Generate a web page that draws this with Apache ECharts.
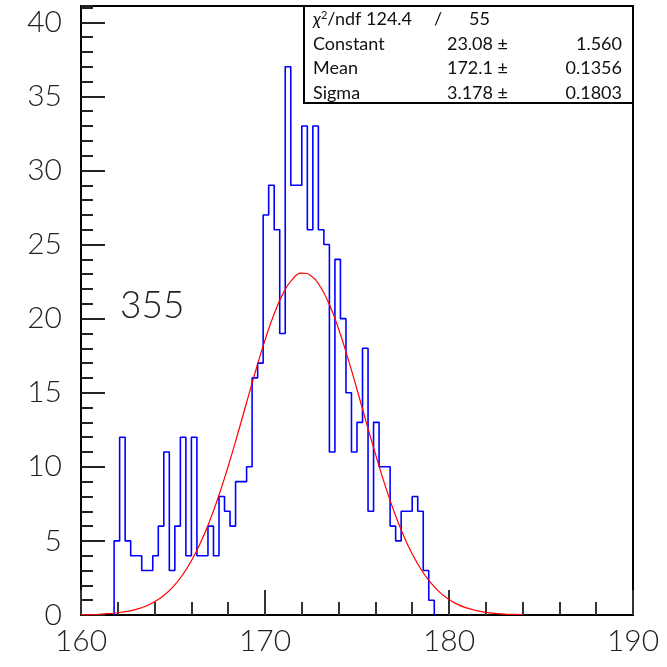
<!DOCTYPE html>
<html>
<head>
<meta charset="utf-8">
<script src="https://cdn.jsdelivr.net/npm/echarts@6/dist/echarts.min.js"></script>
<style>
  html, body { margin: 0; padding: 0; background: #fff; }
  #chart { width: 667px; height: 667px; }
</style>
</head>
<body>
<div id="chart"></div>
<script>
// histogram: 0.3 wide bins, first filled bin starts at 161.8
const binStart = 161.8;
const binWidth = 0.3;
const counts = [
  5, 12, 5, 4, 4, 3, 3, 4, 6, 11,
  3, 6, 12, 4, 12, 4, 4, 6, 4, 8,
  7, 6, 9, 9, 10, 16, 17, 27, 29, 26,
  19, 37, 29, 29, 33, 26, 33, 26, 25, 11,
  24, 20, 15, 11, 13, 18, 7, 13, 10, 10,
  6, 5, 7, 7, 8, 7, 3, 1
];
// gaussian fit, every 0.5
const fitX = [160, 160.5, 161, 161.5, 162, 162.5, 163, 163.5, 164, 164.5, 165, 165.5,
  166, 166.5, 167, 167.5, 168, 168.5, 169, 169.5, 170, 170.5, 171, 171.5, 172, 172.5,
  173, 173.5, 174, 174.5, 175, 175.5, 176, 176.5, 177, 177.5, 178, 178.5, 179, 179.5,
  180, 180.5, 181, 181.5, 182, 182.5, 183, 183.5, 184];
const fitY = [0.02, 0.03, 0.05, 0.09, 0.15, 0.24, 0.38, 0.59, 0.9, 1.32, 1.9, 2.67,
  3.66, 4.89, 6.37, 8.1, 10.04, 12.15, 14.34, 16.52, 18.55, 20.33, 21.74, 22.67, 23.07, 22.9,
  22.17, 20.95, 19.3, 17.35, 15.22, 13.02, 10.87, 8.85, 7.03, 5.45, 4.12, 3.04, 2.19, 1.53,
  1.05, 0.7, 0.46, 0.29, 0.18, 0.11, 0.06, 0.04, 0.02];
const statRows = [
  ["Constant", "23.08", "1.560"],
  ["Mean", "172.1", "0.1356"],
  ["Sigma", "3.178", "0.1803"]
];
const chiText = ["124.4", "55"];
const histLabel = "355";

const font = "Lato, 'DejaVu Sans', sans-serif";

// step points: left edge of each bin, plus closing edges
const histData = [[binStart, 0]];
counts.forEach(function (c, i) {
  histData.push([+(binStart + i * binWidth).toFixed(2), c]);
});
histData.push([+(binStart + counts.length * binWidth).toFixed(2), 0]);

const fitData = fitX.map(function (x, i) { return [x, fitY[i]]; });

const chart = echarts.init(document.getElementById("chart"), null, { renderer: "canvas" });

const graphics = [
  {
    type: "rect",
    shape: { x: 304, y: 6, width: 329, height: 97 },
    style: { fill: "#fff", stroke: "#000", lineWidth: 2 },
    z: 100
  },
  {
    type: "text", x: 313, y: 19, z: 101,
    style: {
      text: "{chi|χ}{sup|2}{n|/ndf " + chiText[0] + "}", font: "18px " + font, fill: "#111",
      verticalAlign: "middle",
      rich: {
        chi: { fontSize: 18, fontFamily: font, fill: "#111", fontStyle: "italic" },
        sup: { fontSize: 11, fontFamily: font, fill: "#111", verticalAlign: "top", padding: [0, 0, 8, 0] },
        n: { fontSize: 18, fontFamily: font, fill: "#111" }
      }
    }
  },
  {
    type: "text", x: 434, y: 19, z: 101,
    style: { text: "/", font: "18px " + font, fill: "#111", verticalAlign: "middle" }
  },
  {
    type: "text", x: 490, y: 19, z: 101,
    style: { text: chiText[1], font: "18px " + font, fill: "#111", verticalAlign: "middle", align: "right" }
  },
  {
    type: "text", z: 101,
    left: 120, top: 288,
    style: { text: histLabel, font: "300 37px " + font, fill: "#222" }
  }
];
statRows.forEach(function (r, i) {
  const y = 44 + i * 24.5;
  graphics.push({
    type: "text", x: 313, y: y, z: 101,
    style: { text: r[0], font: "18px " + font, fill: "#111", verticalAlign: "middle" }
  });
  graphics.push({
    type: "text", x: 508, y: y, z: 101,
    style: { text: r[1] + " \u00b1", font: "18px " + font, fill: "#111", verticalAlign: "middle", align: "right" }
  });
  graphics.push({
    type: "text", x: 622, y: y, z: 101,
    style: { text: r[2], font: "18px " + font, fill: "#111", verticalAlign: "middle", align: "right" }
  });
});

const option = {
  animation: false,
  backgroundColor: "#fff",
  grid: {
    left: 81, right: 34, top: 6, bottom: 52,
    show: true, borderColor: "#000", borderWidth: 2, backgroundColor: "transparent"
  },
  xAxis: [
    {
      type: "value", min: 160, max: 190, interval: 10,
      axisLine: { show: true, onZero: false, lineStyle: { color: "#000", width: 2 } },
      axisTick: { show: true, inside: true, length: 25, lineStyle: { color: "#333", width: 2 } },
      axisLabel: { show: true, margin: 11, fontSize: 30, fontFamily: font, fontWeight: 300, color: "#222" },
      splitLine: { show: false }
    },
    {
      type: "value", min: 160, max: 190, interval: 2, position: "bottom",
      axisLine: { show: false },
      axisTick: { show: true, inside: true, length: 13, lineStyle: { color: "#333", width: 2 } },
      axisLabel: { show: false },
      splitLine: { show: false }
    }
  ],
  yAxis: [
    {
      type: "value", min: 0, max: 41.1, interval: 5,
      axisLine: { show: true, onZero: false, lineStyle: { color: "#000", width: 2 } },
      axisTick: { show: true, inside: true, length: 24, lineStyle: { color: "#222", width: 2 } },
      axisLabel: {
        show: true, margin: 19, fontSize: 30, fontFamily: font, fontWeight: 300, color: "#222",
        showMaxLabel: false
      },
      splitLine: { show: false }
    },
    {
      type: "value", min: 0, max: 41.1, interval: 1, position: "left",
      axisLine: { show: false },
      axisTick: { show: true, inside: true, length: 12, lineStyle: { color: "#222", width: 2 } },
      axisLabel: { show: false },
      splitLine: { show: false }
    }
  ],
  series: [
    {
      type: "line",
      data: histData,
      step: "end",
      symbol: "none",
      lineStyle: { color: "#0000ff", width: 1.6 },
      z: 3
    },
    {
      type: "line",
      data: fitData,
      smooth: true,
      symbol: "none",
      lineStyle: { color: "#ff0000", width: 1.2 },
      z: 4
    }
  ],
  graphic: graphics
};

chart.setOption(option);
</script>
</body>
</html>
